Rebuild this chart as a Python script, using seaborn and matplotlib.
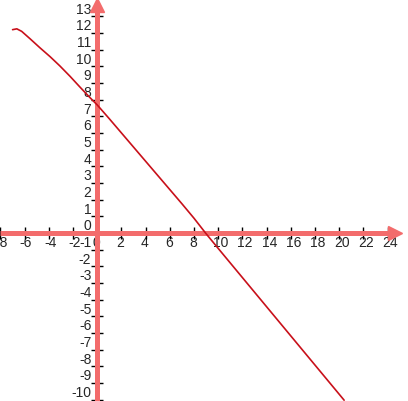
import matplotlib
matplotlib.use("Agg")
import numpy as np
import pandas as pd
import matplotlib.pyplot as plt
import seaborn as sns
from matplotlib.transforms import offset_copy

# curve
curve_x = [-7.0, -6.65, -6.25, -5.55, -4.75, -3.9, -3.1, -2.25, -1.45, -0.6,
           0.0, 1.0, 2.0, 3.0, 4.0, 5.0, 6.0, 7.0, 8.0, 9.0,
           10.0, 12.0, 14.0, 16.0, 18.0, 20.0, 20.4]
curve_y = [12.2, 12.25, 12.1, 11.65, 11.12, 10.58, 10.03, 9.4, 8.77, 8.12,
           7.68, 6.85, 6.0, 5.15, 4.3, 3.45, 2.6, 1.75, 0.88, -0.05,
           -0.93, -2.68, -4.43, -6.18, -7.93, -9.68, -10.03]

x_ticks = list(range(-8, 25, 2))
y_ticks = list(range(-10, 14))

axis_color = "#f36c6c"
curve_color = "#c8101a"

sns.set_style("white")
plt.rcParams["font.family"] = ["Liberation Sans", "DejaVu Sans"]

fig = plt.figure(figsize=(4.08, 4.02), dpi=100)
ax = fig.add_axes([0, 0, 1, 1])
ax.set_xlim(-8.04, 25.68)
ax.set_ylim(-10.08, 14.04)
ax.axis("off")

df = pd.DataFrame({"x": curve_x, "y": curve_y})

# ticks (behind the axis bars)
ax.plot(x_ticks, [0] * len(x_ticks), ls="none", marker="|", ms=9, mew=1, color="black", zorder=2)
ax.plot([0] * len(y_ticks), y_ticks, ls="none", marker="_", ms=9, mew=1, color="black", zorder=2)

# tick labels
for v in y_ticks:
    tr = offset_copy(ax.transData, fig, x=-6, y=3.5, units="dots")
    ax.text(0, v, str(v), transform=tr, ha="right", va="baseline", fontsize=10, zorder=1)
for v in x_ticks:
    tr = offset_copy(ax.transData, fig, x=-5, y=-13.5, units="dots")
    ax.text(v, 0, str(v), transform=tr, ha="left", va="baseline", fontsize=10, zorder=1)

# axis bars with arrow heads
ax.plot([-8.04, 24.2], [0, 0], color=axis_color, lw=3.6, solid_capstyle="butt", zorder=3)
ax.plot([0, 0], [-10.08, 13.4], color=axis_color, lw=3.6, solid_capstyle="butt", zorder=3)
ax.plot([24.6], [0], marker=">", ms=10, color=axis_color, mec=axis_color, zorder=3)
ax.plot([0], [13.68], marker="^", ms=10, color=axis_color, mec=axis_color, zorder=3)

sns.lineplot(data=df, x="x", y="y", sort=False, color=curve_color, lw=1.2, ax=ax, zorder=4)

fig.savefig("out.png", dpi=100)
